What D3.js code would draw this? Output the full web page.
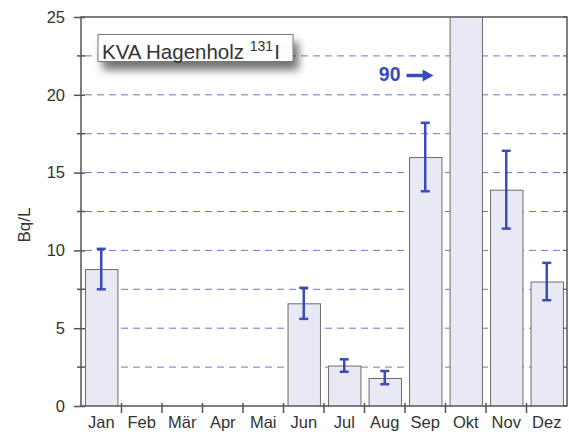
<!DOCTYPE html>
<html><head><meta charset="utf-8">
<script src="https://cdn.jsdelivr.net/npm/d3@7"></script>
<style>html,body{margin:0;padding:0;background:#fff}svg{display:block}</style>
</head><body>
<svg id="c" width="569" height="432"></svg>
<script>
const months = ["Jan","Feb","Mär","Apr","Mai","Jun","Jul","Aug","Sep","Okt","Nov","Dez"];
const values = [8.8,null,null,null,null,6.6,2.6,1.8,16.0,90,13.9,8.0];
const errLow = [7.5,null,null,null,null,5.6,2.2,1.4,13.8,null,11.4,6.8];
const errHigh = [10.1,null,null,null,null,7.6,3.0,2.25,18.2,null,16.4,9.2];
const yTicks = [0,5,10,15,20,25];
const yMinorTicks = [2.5,7.5,12.5,17.5,22.5];
const gridValues = [2.5,5,7.5,10,12.5,15,17.5,20,22.5];
const titleText = "KVA Hagenholz ";
const titleSup = "131";
const titleEnd = "I";
const yLabel = "Bq/L";
const offscaleLabel = "90";

const svg = d3.select("#c");
const m = {l:81, r:2, t:17, b:26};
const W = 569, H = 432;
const x = d3.scaleBand().domain(months).range([m.l, W-m.r]).paddingInner(0.2).paddingOuter(0.1);
const y = d3.scaleLinear().domain([0,25]).range([H-m.b, m.t]);
const axisCol = "#555", blue = "#3a4cbd", font = "'Liberation Sans', Arial, sans-serif";

const defs = svg.append("defs");
defs.append("clipPath").attr("id","plot").append("rect")
  .attr("x", m.l).attr("y", m.t).attr("width", W-m.r-m.l).attr("height", H-m.b-m.t);
const f = defs.append("filter").attr("id","sh").attr("x","-20%").attr("y","-50%").attr("width","150%").attr("height","250%");
f.append("feDropShadow").attr("dx",5).attr("dy",8).attr("stdDeviation",4.5).attr("flood-color","#000").attr("flood-opacity",0.55);

// gridlines
svg.append("g").selectAll("line").data(gridValues).join("line")
  .attr("x1", m.l+4).attr("x2", W-m.r-4)
  .attr("y1", d=>y(d)).attr("y2", d=>y(d))
  .attr("stroke","#6d74c8").attr("stroke-width",1).attr("stroke-dasharray","7,5");

// bars
const idx = months.map((d,i)=>i).filter(i=>values[i]!=null);
svg.append("g").attr("clip-path","url(#plot)").selectAll("rect").data(idx).join("rect")
  .attr("x", i=>x(months[i])+0.5).attr("width", x.bandwidth())
  .attr("y", i=>y(values[i])+0.5).attr("height", i=>y(0)-y(values[i]))
  .attr("fill","#e9e9f6").attr("stroke","#6e6a6a").attr("stroke-width",1);

// error bars
const eIdx = idx.filter(i=>errLow[i]!=null);
const eg = svg.append("g").attr("stroke", blue).attr("stroke-width",2.5);
eg.selectAll(".v").data(eIdx).join("line")
  .attr("x1", i=>x(months[i])+x.bandwidth()/2).attr("x2", i=>x(months[i])+x.bandwidth()/2)
  .attr("y1", i=>y(errLow[i])).attr("y2", i=>y(errHigh[i]));
eg.selectAll(".t").data(eIdx).join("line")
  .attr("x1", i=>x(months[i])+x.bandwidth()/2-4.5).attr("x2", i=>x(months[i])+x.bandwidth()/2+4.5)
  .attr("y1", i=>y(errHigh[i])).attr("y2", i=>y(errHigh[i]));
eg.selectAll(".b").data(eIdx).join("line")
  .attr("x1", i=>x(months[i])+x.bandwidth()/2-4.5).attr("x2", i=>x(months[i])+x.bandwidth()/2+4.5)
  .attr("y1", i=>y(errLow[i])).attr("y2", i=>y(errLow[i]));

// frame
svg.append("rect").attr("x", m.l).attr("y", m.t).attr("width", W-m.r-m.l).attr("height", H-m.b-m.t)
  .attr("fill","none").attr("stroke", axisCol).attr("stroke-width",1.5);

// left axis
const yAxis = d3.axisLeft(y).tickValues(yTicks).tickSize(7).tickPadding(9).tickSizeOuter(0);
const ga = svg.append("g").attr("transform",`translate(${m.l},0)`).call(yAxis);
ga.select(".domain").remove();
ga.selectAll(".tick line").attr("stroke",axisCol).attr("stroke-width",1.5).attr("x2",-7).attr("x1",4);
ga.selectAll(".tick text").attr("font-family",font).attr("font-size",16.5).attr("fill","#333");
svg.append("g").selectAll("line").data(yMinorTicks).join("line")
  .attr("x1", m.l-4).attr("x2", m.l+4).attr("y1", d=>y(d)).attr("y2", d=>y(d))
  .attr("stroke",axisCol).attr("stroke-width",1.5);
// right ticks
svg.append("g").selectAll("line").data(yTicks.concat(yMinorTicks)).join("line")
  .attr("x1", W-m.r-4).attr("x2", W-m.r).attr("y1", d=>y(d)).attr("y2", d=>y(d))
  .attr("stroke",axisCol).attr("stroke-width",1.2);

// bottom axis
const xAxis = d3.axisBottom(x).tickSize(0).tickPadding(10);
const gx = svg.append("g").attr("transform",`translate(0,${H-m.b})`).call(xAxis);
gx.select(".domain").remove();
gx.selectAll(".tick line").remove();
gx.selectAll(".tick text").attr("font-family",font).attr("font-size",16.5).attr("fill","#333");
const bounds = months.slice(1).map(mn=>x(mn)-x.step()*x.paddingInner()/2);
svg.append("g").selectAll("line").data(bounds).join("line")
  .attr("x1", d=>d).attr("x2", d=>d).attr("y1", H-m.b-3).attr("y2", H-m.b+7)
  .attr("stroke",axisCol).attr("stroke-width",1.5);

// y label
svg.append("text").attr("transform","translate(30,225) rotate(-90)")
  .attr("text-anchor","middle").attr("font-family",font).attr("font-size",17).attr("fill","#333").text(yLabel);

// title box
svg.append("rect").attr("x",98).attr("y",34.5).attr("width",195).attr("height",27)
  .attr("fill","#fff").attr("stroke","#777").attr("stroke-width",1).attr("filter","url(#sh)");
const tt = svg.append("text").attr("x",102).attr("y",58.5).attr("font-family",font).attr("font-size",20.5).attr("fill","#333");
tt.append("tspan").text(titleText);
tt.append("tspan").attr("font-size",14).attr("dy",-8).text(titleSup);
tt.append("tspan").attr("dy",8).attr("dx",1).text(titleEnd);

// offscale annotation
const oi = months.indexOf("Okt");
const ox = x(months[oi]);
svg.append("text").attr("x", ox - 49).attr("y", 81).attr("text-anchor","end")
  .attr("font-family",font).attr("font-size",19.5).attr("font-weight","bold").attr("fill",blue).text(offscaleLabel);
const ax0 = ox - 43, ax1 = ox - 16;
svg.append("line").attr("x1",ax0).attr("x2",ax1-8).attr("y1",75.5).attr("y2",75.5).attr("stroke",blue).attr("stroke-width",3.5);
svg.append("path").attr("d",`M${ax1},75.5 L${ax1-11},69.5 L${ax1-11},81.5 Z`).attr("fill",blue);
</script>
</body></html>
